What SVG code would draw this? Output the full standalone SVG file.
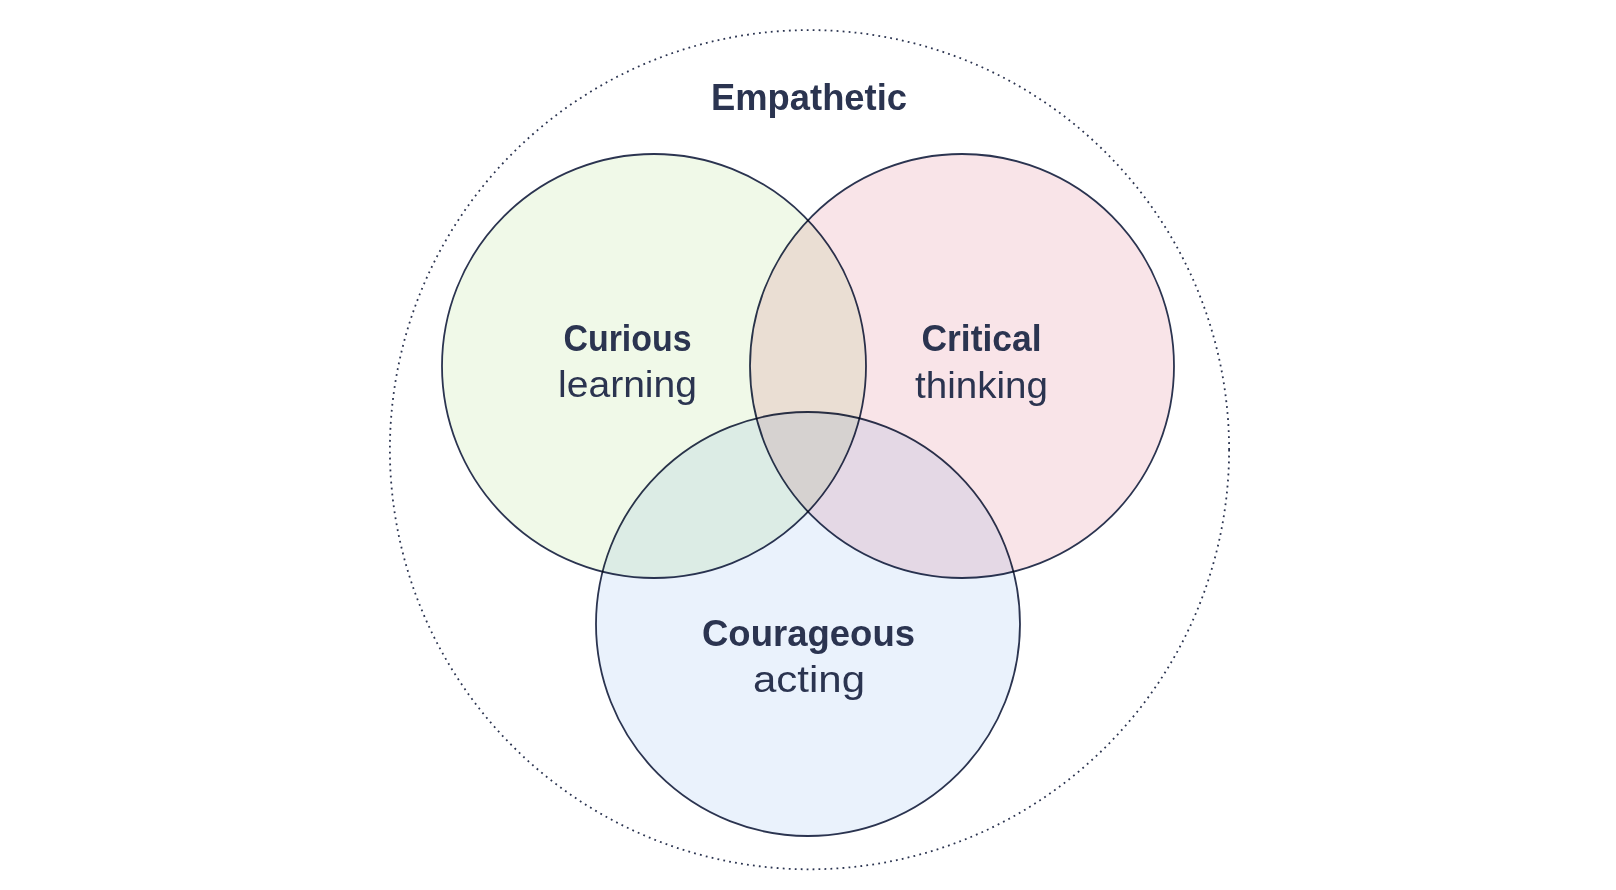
<svg xmlns="http://www.w3.org/2000/svg" width="1616" height="890" viewBox="0 0 1616 890">
<style>
.ring{fill:none;stroke:#2b3450;stroke-width:1.8;stroke-dasharray:1.8 4.2}
.set{stroke:#2b3450;stroke-width:1.8;mix-blend-mode:multiply}
.b{font-family:"Liberation Sans",Arial,sans-serif;font-weight:700;font-size:36px;fill:#2b3450;text-anchor:middle}
.r{font-family:"Liberation Sans",Arial,sans-serif;font-weight:400;font-size:36px;fill:#2b3450;text-anchor:middle}
</style>
<rect width="1616" height="890" fill="#ffffff"/>
<g id="empathetic">
<circle class="ring" cx="809.5" cy="449.7" r="419.6"/>
<text class="b" x="809" y="110" textLength="196" lengthAdjust="spacingAndGlyphs">Empathetic</text>
</g>
<g id="curious">
<circle class="set" cx="654" cy="366" r="212" fill="#f0f9e8"/>
</g>
<g id="critical">
<circle class="set" cx="962" cy="366" r="212" fill="#f9e4e8"/>
</g>
<g id="courageous">
<circle class="set" cx="808" cy="624" r="212" fill="#eaf2fc"/>
</g>
<g id="labels">
<text class="b" x="627.5" y="350.5" textLength="128" lengthAdjust="spacingAndGlyphs">Curious</text>
<text class="r" x="627.5" y="397" textLength="139" lengthAdjust="spacingAndGlyphs">learning</text>
<text class="b" x="981.5" y="351" textLength="120" lengthAdjust="spacingAndGlyphs">Critical</text>
<text class="r" x="981.5" y="398" textLength="133" lengthAdjust="spacingAndGlyphs">thinking</text>
<text class="b" x="808.5" y="646" textLength="213" lengthAdjust="spacingAndGlyphs">Courageous</text>
<text class="r" x="809" y="691.5" textLength="112" lengthAdjust="spacingAndGlyphs">acting</text>
</g>
<g id="connectors"></g>
</svg>
